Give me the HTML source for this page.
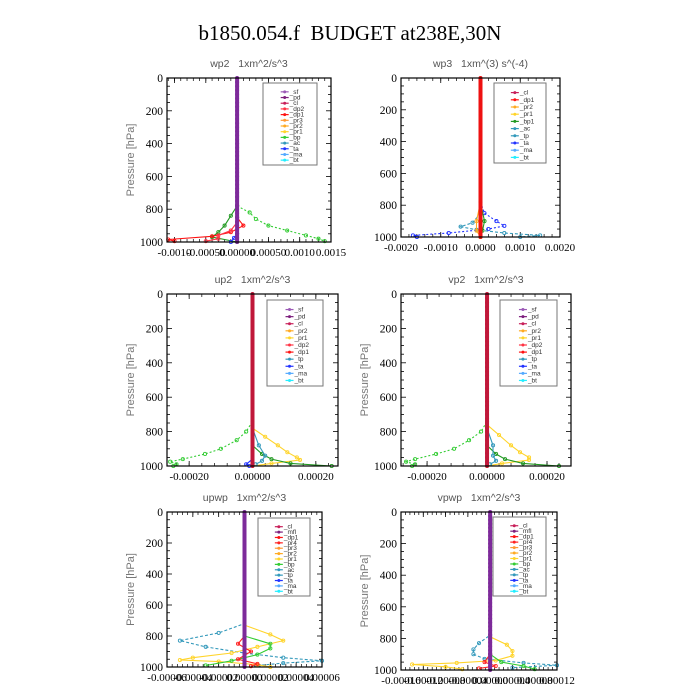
<!DOCTYPE html>
<html><head><meta charset="utf-8">
<style>
html,body{margin:0;padding:0;background:#fff;}
#wrap{position:relative;width:700px;height:700px;overflow:hidden;}
svg text{font-family:"Liberation Serif",serif;white-space:pre;}
.sans{font-family:"Liberation Sans",sans-serif !important;}
</style></head>
<body>
<div id="wrap">
<svg id="fig" width="700" height="700" viewBox="0 0 700 700" xmlns="http://www.w3.org/2000/svg" xml:space="preserve">
<text x="350" y="40" text-anchor="middle" font-size="21" fill="#000">b1850.054.f  BUDGET at238E,30N</text>
</svg>
</div>
<script>
// ---------- DATA ----------
const yTicks = [0, 200, 400, 600, 800, 1000];

// wp2
const wp2Ticks = [-0.001, -0.0005, 0, 0.0005, 0.001, 0.0015];
const wp2TickLabels = ["-0.0010", "-0.00050", "0.00000", "0.00050", "0.0010", "0.0015"];
const wp2Legend = ["_sf","_pd","_cl","_dp2","_dp1","_pr3","_pr2","_pr1","_bp","_ac","_ta","_ma","_bt"];
const wp2_bp_p = [0, 780, 820, 860, 900, 930, 960, 980, 995];
const wp2_bp_v = [0, 0, 0.0002, 0.0003, 0.0005, 0.0008, 0.0011, 0.0013, 0.0014];
const wp2_pr1_p = [0, 780, 840, 900, 940, 970, 1000];
const wp2_pr1_v = [0, 0, -0.0001, -0.0002, -0.0003, -0.0004, 0];
const wp2_dp1_p = [0, 850, 900, 940, 965, 985, 995];
const wp2_dp1_v = [0, 0, 0.0001, -0.0001, -0.0004, -0.0011, -0.001];
const wp2_dp2_p = [0, 880, 930, 960, 980, 995];
const wp2_dp2_v = [0, 0, -0.0001, -0.0003, -0.0003, -0.0005];
const wp2_ta_p = [0, 950, 975, 1000];
const wp2_ta_v = [0, 0, -0.00005, -0.0001];

// wp3
const wp3Ticks = [-0.002, -0.001, 0, 0.001, 0.002];
const wp3TickLabels = ["-0.0020", "-0.0010", "0.0000", "0.0010", "0.0020"];
const wp3Legend = ["_cl","_dp1","_pr2","_pr1","_bp1","_ac","_tp","_ta","_ma","_bt"];
const wp3_ta_p = [0, 780, 850, 900, 930, 950, 975, 990, 1000];
const wp3_ta_v = [0, 0, 0.0001, 0.0004, 0.0006, 0.0002, -0.0008, -0.0017, -0.0016];
const wp3_tp_p = [0, 850, 910, 935, 955, 975, 990, 1000];
const wp3_tp_v = [0, 0, -0.0002, -0.0005, -0.0001, 0.0006, 0.0015, 0.001];
const wp3_bp_p = [0, 780, 900, 960, 1000];
const wp3_bp_v = [0, 0, 0.0001, 0.00005, 0];
const wp3_pr_p = [0, 780, 900, 960, 1000];
const wp3_pr_v = [0, 0, -0.0001, -0.0001, 0];

// up2
const up2Ticks = [-0.0002, 0, 0.0002];
const up2TickLabels = ["-0.00020", "0.00000", "0.00020"];
const up2Legend = ["_sf","_pd","_cl","_pr2","_pr1","_dp2","_dp1","_tp","_ta","_ma","_bt"];
const up2_dp1_p = [0, 740, 800, 850, 900, 930, 960, 975, 990, 1000];
const up2_dp1_v = [0, 0, -0.00002, -0.00005, -0.0001, -0.00015, -0.00022, -0.00026, -0.00024, -0.00025];
const up2_pr1_p = [0, 780, 830, 880, 920, 950, 965, 985, 1000];
const up2_pr1_v = [0, 0, 0.00004, 0.00008, 0.00011, 0.00014, 0.00015, 0.00006, 0];
const up2_dp2_p = [0, 880, 930, 960, 985, 1000];
const up2_dp2_v = [0, 0, 0.00003, 0.00006, 0.00012, 0.00025];
const up2_tp_p = [0, 780, 880, 940, 970, 990];
const up2_tp_v = [0, 0, 0.00002, 0.00004, 0.00003, 0.00001];
const up2_ta_p = [0, 960, 990, 1000];
const up2_ta_v = [0, 0, -0.00002, -0.00001];

// vp2
const vp2Ticks = [-0.0002, 0, 0.0002];
const vp2TickLabels = ["-0.00020", "0.00000", "0.00020"];
const vp2Legend = ["_sf","_pd","_cl","_pr2","_pr1","_dp2","_dp1","_tp","_ta","_ma","_bt"];
const vp2_dp1_p = [0, 740, 800, 850, 900, 930, 960, 975, 990, 1000];
const vp2_dp1_v = [0, 0, -0.00002, -0.00006, -0.00011, -0.00017, -0.00024, -0.00027, -0.00024, -0.00025];
const vp2_pr1_p = [0, 760, 820, 880, 920, 950, 965, 985, 1000];
const vp2_pr1_v = [0, 0, 0.00004, 0.00008, 0.00011, 0.00014, 0.00014, 0.00005, 0];
const vp2_dp2_p = [0, 880, 930, 960, 985, 1000];
const vp2_dp2_v = [0, 0, 0.00003, 0.00006, 0.00012, 0.00024];
const vp2_tp_p = [0, 780, 880, 940, 970, 990];
const vp2_tp_v = [0, 0, 0.00002, 0.00002, 0.00003, 0.00001];

// upwp
const upwpTicks = [-0.00006, -0.00004, -0.00002, 0, 0.00002, 0.00004, 0.00006];
const upwpTickLabels = ["-0.00006", "-0.00004", "-0.00002", "0.00000", "0.00002", "0.00004", "0.00006"];
const upwpLegend = ["_cl","_mfl","_dp1","_pr4","_pr3","_pr2","_pr1","_bp","_ac","_tp","_ta","_ma","_bt"];
const upwp_tp_p = [0, 720, 780, 830, 870, 910, 940, 960, 975, 990];
const upwp_tp_v = [0, 0, -0.00002, -0.00005, -0.00003, 0, 0.00003, 0.00006, 0.00003, 0.00001];
const upwp_pr1_p = [0, 730, 790, 830, 870, 910, 940, 955, 965, 985, 1000];
const upwp_pr1_v = [0, 0, 0.00002, 0.00003, 0.00001, -0.00001, -0.00004, -0.00005, -0.00002, 0.00001, 0.00002];
const upwp_bp_p = [0, 800, 850, 880, 920, 960, 990];
const upwp_bp_v = [0, 0, 0.00002, 0.00002, 0.00001, -0.00001, -0.00003];
const upwp_dp1_p = [0, 800, 850, 900, 950, 980, 995];
const upwp_dp1_v = [0, 0, -0.000005, 0.000005, -0.000005, 0.00001, 0.000005];

// vpwp
const vpwpTicks = [-0.00016, -0.00012, -0.00008, -0.00004, 0, 0.00004, 0.00008, 0.00012];
const vpwpTickLabels = ["-0.00016", "-0.00012", "-0.00008", "-0.00004", "0.00000", "0.00004", "0.00008", "0.00012"];
const vpwpLegend = ["_cl","_mfl","_dp1","_pr4","_pr3","_pr2","_pr1","_bp","_ac","_tp","_ta","_ma","_bt"];
const vpwp_tp_p = [0, 780, 830, 870, 900, 930, 955, 970, 985];
const vpwp_tp_v = [0, 0, -0.00002, -0.00003, -0.00003, -0.00001, 0.00006, 0.00012, 0.00004];
const vpwp_pr1_p = [0, 790, 840, 880, 910, 940, 955, 965, 980, 995];
const vpwp_pr1_v = [0, 0, 0.00003, 0.00004, 0.00004, 0.00001, -0.00006, -0.00014, -0.00008, -0.00005];
const vpwp_bp_p = [0, 900, 950, 975, 995];
const vpwp_bp_v = [0, 0, 0.00002, 0.00006, 0.00008];
const vpwp_dp1_p = [0, 900, 950, 975, 990];
const vpwp_dp1_v = [0, 0, -0.00001, 0.00001, -0.00002];

// ---------- COLORS ----------
const COL = {"_sf":"#9b59b6","_pd":"#7d1f7d","_cl":"#c8205a","_mfl":"#7d1f7d","_dp2":"#ff3344","_dp1":"#ff1111","_pr4":"#ff2222","_pr3":"#ff9933","_pr2":"#ffaa22","_pr1":"#ffd42a","_bp":"#33cc33","_bp1":"#229922","_ac":"#3399bb","_tp":"#3399bb","_ta":"#2233ff","_ma":"#55aaff","_bt":"#22eeff"};

const svg = document.getElementById('fig');
const NS = 'http://www.w3.org/2000/svg';
function mk(tag, attrs, parent){ const e=document.createElementNS(NS,tag); for(const k in attrs) e.setAttribute(k,attrs[k]); (parent||svg).appendChild(e); return e; }

function panel(cfg){
  const g = mk('g',{});
  
  
  const L=cfg.x0, R=cfg.x1, T=cfg.y0, B=cfg.y1;
  const sx = v => L + (v - cfg.xmin)/(cfg.xmax - cfg.xmin)*(R-L);
  const sy = p => T + p/1000*(B-T);
  const t = mk('text',{x:(L+R)/2, y:T-11, 'text-anchor':'middle','font-size':'10.5',fill:'#555',class:'sans'},g);
  t.textContent = cfg.title;
  
  
  if(cfg.ylabel){
    const yl = mk('text',{x:0,y:0,transform:`translate(${L-33},${(T+B)/2}) rotate(-90)`,'text-anchor':'middle','font-size':'11',fill:'#777',class:'sans'},g);
    yl.textContent = 'Pressure [hPa]';
    
    
  }
  for(let p=50;p<1000;p+=50){
    const len = (p%200===0)?5:3;
    mk('line',{x1:L,x2:L+len,y1:sy(p),y2:sy(p),stroke:'#000','stroke-width':0.8},g);
    mk('line',{x1:R,x2:R-len,y1:sy(p),y2:sy(p),stroke:'#000','stroke-width':0.8},g);
  }
  yTicks.forEach(p=>{
    const tx = mk('text',{x:L-4,y:sy(p)+4,'text-anchor':'end','font-size':'11.5',fill:'#000'},g);
    tx.textContent = p;
    
    
  });
  const tk = cfg.ticks;
  const step = tk[1]-tk[0];
  for(let i=0;i<tk.length;i++){
    const xx = sx(tk[i]);
    mk('line',{x1:xx,x2:xx,y1:B,y2:B-5,stroke:'#000','stroke-width':0.8},g);
    mk('line',{x1:xx,x2:xx,y1:T,y2:T+5,stroke:'#000','stroke-width':0.8},g);
    const tx = mk('text',{x:xx,y:B+14,'text-anchor':'middle','font-size':'11',fill:'#000'},g);
    tx.textContent = cfg.labels[i];
    
    
  }
  for(let v=tk[0]-step; v<cfg.xmax+step; v+=step/5){
    if(v<cfg.xmin||v>cfg.xmax) continue;
    const xx = sx(v);
    mk('line',{x1:xx,x2:xx,y1:B,y2:B-3,stroke:'#000','stroke-width':0.7},g);
    mk('line',{x1:xx,x2:xx,y1:T,y2:T+3,stroke:'#000','stroke-width':0.7},g);
  }
  cfg.series.forEach(s=>{
    const pts = s.p.map((p,i)=>sx(s.v[i]).toFixed(1)+','+sy(p).toFixed(1)).join(' ');
    const pl = mk('polyline',{points:pts,fill:'none',stroke:COL[s.n],'stroke-width':1.1,'stroke-dasharray':s.dash||'none'},g);
    
    
    s.p.forEach((p,i)=>{ if(p>=700) mk('circle',{cx:sx(s.v[i]),cy:sy(p),r:1.6,fill:'none',stroke:COL[s.n],'stroke-width':0.9},g); });
  });
  const zc = sx(0);
  const cl = mk('line',{x1:zc,x2:zc,y1:T,y2:B,stroke:cfg.center,'stroke-width':4},g);
  
  
  for(let p=0;p<=1000;p+=25) mk('circle',{cx:zc,cy:sy(p),r:2,fill:cfg.center},g);
  mk('rect',{x:L,y:T,width:R-L,height:B-T,fill:'none',stroke:'#000','stroke-width':1.2},g);
  const lg = mk('g',{},g);
  
  
  const lb = cfg.leg;
  mk('rect',{x:lb[0],y:lb[1],width:lb[2]-lb[0],height:lb[3]-lb[1],fill:'#fff',stroke:'#777','stroke-width':1},lg);
  const n = cfg.legend.length;
  const dy = (lb[3]-lb[1]-8)/n;
  const mx = lb[0] + (lb[2]-lb[0])*0.42;
  cfg.legend.forEach((name,i)=>{
    const yy = lb[1]+6+dy*(i+0.5);
    const e = mk('g',{},lg);
    
    
    mk('line',{x1:mx-5,x2:mx+3,y1:yy,y2:yy,stroke:COL[name],'stroke-width':1.2},e);
    mk('circle',{cx:mx-1,cy:yy,r:1.5,fill:COL[name]},e);
    const tx = mk('text',{x:mx+4,y:yy+2,'font-size':'6.5',fill:'#333',class:'sans'},e);
    tx.textContent = name;
  });
}

panel({id:'wp2',title:'wp2   1xm^2/s^3',ylabel:true,x0:167,x1:331,y0:78,y1:242,xmin:-0.00112,xmax:0.0015,
  ticks:wp2Ticks,labels:wp2TickLabels,legend:wp2Legend,leg:[263,83,317,165],center:'#7d2a9a',
  series:[{n:'_bp',p:wp2_bp_p,v:wp2_bp_v,dash:'2,2'},{n:'_bp1',p:wp2_pr1_p,v:wp2_pr1_v},{n:'_dp1',p:wp2_dp1_p,v:wp2_dp1_v},{n:'_dp2',p:wp2_dp2_p,v:wp2_dp2_v},{n:'_ta',p:wp2_ta_p,v:wp2_ta_v}]});
panel({id:'wp3',title:'wp3   1xm^(3) s^(-4)',ylabel:false,x0:401,x1:560,y0:78,y1:237,xmin:-0.002,xmax:0.002,
  ticks:wp3Ticks,labels:wp3TickLabels,legend:wp3Legend,leg:[494,83,546,163],center:'#ee1111',
  series:[{n:'_ta',p:wp3_ta_p,v:wp3_ta_v,dash:'2,2'},{n:'_tp',p:wp3_tp_p,v:wp3_tp_v,dash:'3,2'},{n:'_bp1',p:wp3_bp_p,v:wp3_bp_v},{n:'_pr2',p:wp3_pr_p,v:wp3_pr_v}]});
panel({id:'up2',title:'up2   1xm^2/s^3',ylabel:true,x0:167,x1:338,y0:294,y1:466,xmin:-0.00027,xmax:0.00027,
  ticks:up2Ticks,labels:up2TickLabels,legend:up2Legend,leg:[267,300,323,386],center:'#c0183a',
  series:[{n:'_bp',p:up2_dp1_p,v:up2_dp1_v,dash:'2,2'},{n:'_pr1',p:up2_pr1_p,v:up2_pr1_v},{n:'_bp1',p:up2_dp2_p,v:up2_dp2_v},{n:'_tp',p:up2_tp_p,v:up2_tp_v},{n:'_ta',p:up2_ta_p,v:up2_ta_v}]});
panel({id:'vp2',title:'vp2   1xm^2/s^3',ylabel:true,x0:401,x1:571,y0:294,y1:466,xmin:-0.000287,xmax:0.00028,
  ticks:vp2Ticks,labels:vp2TickLabels,legend:vp2Legend,leg:[500,300,557,386],center:'#c0183a',
  series:[{n:'_bp',p:vp2_dp1_p,v:vp2_dp1_v,dash:'2,2'},{n:'_pr1',p:vp2_pr1_p,v:vp2_pr1_v},{n:'_bp1',p:vp2_dp2_p,v:vp2_dp2_v},{n:'_tp',p:vp2_tp_p,v:vp2_tp_v}]});
panel({id:'upwp',title:'upwp   1xm^2/s^3',ylabel:true,x0:167,x1:322,y0:512,y1:667,xmin:-0.00006,xmax:0.00006,
  ticks:upwpTicks,labels:upwpTickLabels,legend:upwpLegend,leg:[258,518,310,596],center:'#7d2a9a',
  series:[{n:'_tp',p:upwp_tp_p,v:upwp_tp_v,dash:'3,2'},{n:'_pr1',p:upwp_pr1_p,v:upwp_pr1_v},{n:'_bp',p:upwp_bp_p,v:upwp_bp_v},{n:'_pr4',p:upwp_dp1_p,v:upwp_dp1_v}]});
panel({id:'vpwp',title:'vpwp   1xm^2/s^3',ylabel:true,x0:401,x1:557,y0:512,y1:670,xmin:-0.00016,xmax:0.00012,
  ticks:vpwpTicks,labels:vpwpTickLabels,legend:vpwpLegend,leg:[493,517,546,596],center:'#7d2a9a',
  series:[{n:'_tp',p:vpwp_tp_p,v:vpwp_tp_v,dash:'3,2'},{n:'_pr1',p:vpwp_pr1_p,v:vpwp_pr1_v},{n:'_bp',p:vpwp_bp_p,v:vpwp_bp_v},{n:'_pr4',p:vpwp_dp1_p,v:vpwp_dp1_v}]});
</script>
</body></html>
